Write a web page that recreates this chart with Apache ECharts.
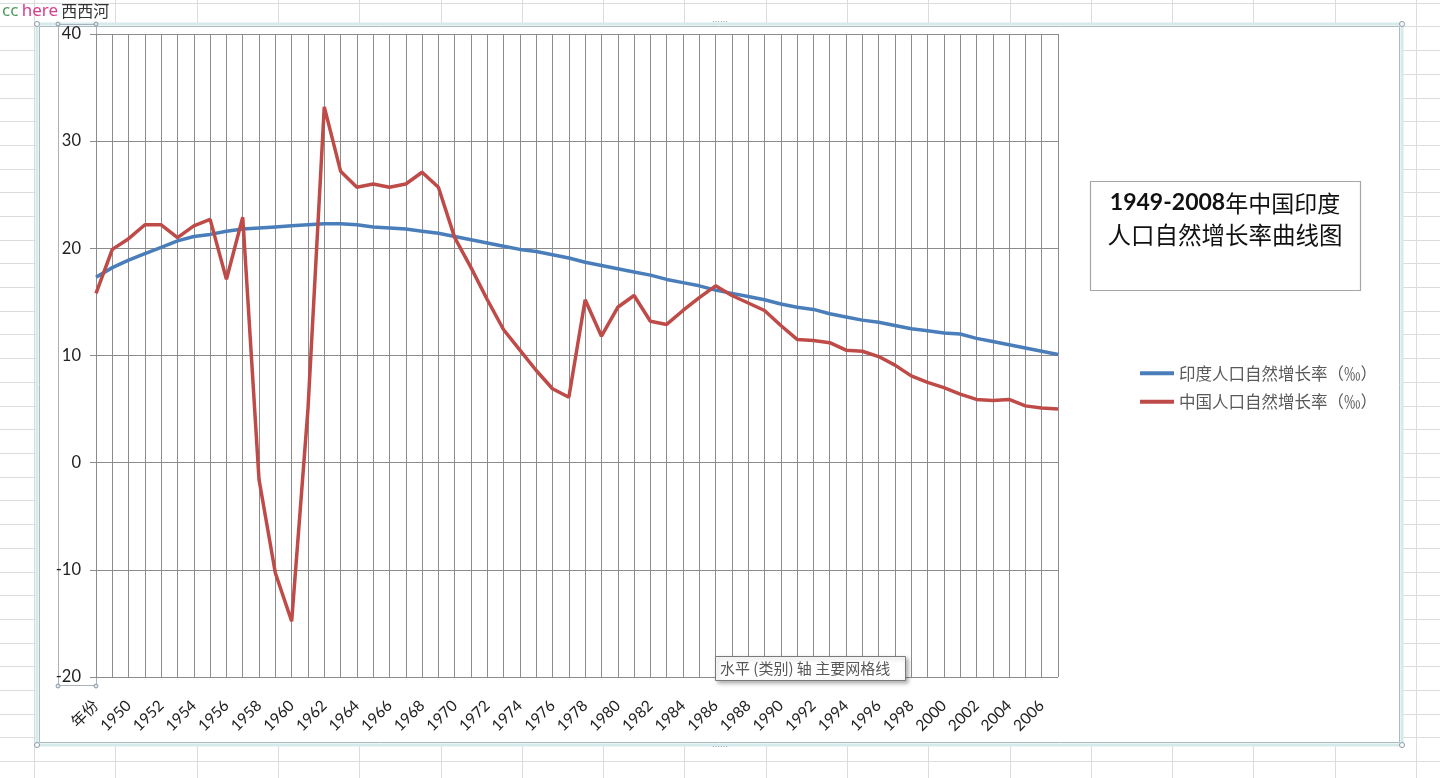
<!DOCTYPE html>
<html>
<head>
<meta charset="utf-8">
<script src="https://cdn.jsdelivr.net/npm/echarts@6/dist/echarts.min.js"></script>
<style>
html,body{margin:0;padding:0;background:#fff;}
#c{width:1440px;height:778px;}
</style>
</head>
<body>
<div id="c"></div>
<script>
const categories = ["年份","1949","1950","1951","1952","1953","1954","1955","1956","1957","1958","1959","1960","1961","1962","1963","1964","1965","1966","1967","1968","1969","1970","1971","1972","1973","1974","1975","1976","1977","1978","1979","1980","1981","1982","1983","1984","1985","1986","1987","1988","1989","1990","1991","1992","1993","1994","1995","1996","1997","1998","1999","2000","2001","2002","2003","2004","2005","2006","2007"];
const indiaRate = [17.3,18.2,18.9,19.5,20.1,20.7,21.1,21.3,21.6,21.8,21.9,22.0,22.1,22.2,22.3,22.3,22.2,22.0,21.9,21.8,21.6,21.4,21.1,20.8,20.5,20.2,19.9,19.7,19.4,19.1,18.7,18.4,18.1,17.8,17.5,17.1,16.8,16.5,16.1,15.8,15.5,15.2,14.8,14.5,14.3,13.9,13.6,13.3,13.1,12.8,12.5,12.3,12.1,12.0,11.6,11.3,11.0,10.7,10.4,10.1];
const chinaRate = [15.8,19.9,20.9,22.2,22.2,21.0,22.1,22.7,17.1,22.9,-1.6,-10.3,-14.8,5.0,33.2,27.2,25.7,26.0,25.7,26.0,27.1,25.7,21.0,18.2,15.2,12.4,10.5,8.6,6.9,6.1,15.2,11.8,14.5,15.6,13.2,12.9,14.2,15.4,16.5,15.6,14.9,14.2,12.8,11.5,11.4,11.2,10.5,10.4,9.9,9.1,8.1,7.5,7.0,6.4,5.9,5.8,5.9,5.3,5.1,5.0];
const seriesNames = ["印度人口自然增长率（‰）","中国人口自然增长率（‰）"];
const yTicks = {min:-20, max:40, interval:10};

const chart = echarts.init(document.getElementById('c'));

// spreadsheet background decoration
const deco = [];
for (let y = 2.7; y < 778; y += 23.7) {
  deco.push({type:'line', z:-100, silent:true, shape:{x1:0,y1:Math.round(y)+0.5,x2:1440,y2:Math.round(y)+0.5}, style:{stroke:'#dadcdd',lineWidth:1}});
}
for (let x = 34; x < 1440; x += 81.3) {
  deco.push({type:'line', z:-100, silent:true, shape:{x1:Math.round(x)+0.5,y1:0,x2:Math.round(x)+0.5,y2:778}, style:{stroke:'#dadcdd',lineWidth:1}});
}
// chart frame
deco.push({type:'rect', z:-90, silent:true, shape:{x:37,y:24,width:1365,height:721}, style:{fill:'#fff',stroke:'#d6eaec',lineWidth:3}});
deco.push({type:'rect', z:-89, silent:true, shape:{x:39.5,y:26.5,width:1360,height:716}, style:{fill:null,stroke:'#aabcbe',lineWidth:1}});
// frame handles
[[37,24],[1402,24],[37,745],[1402,745]].forEach(p=>{
  deco.push({type:'circle', z:50, silent:true, shape:{cx:p[0],cy:p[1],r:2.5}, style:{fill:'#fff',stroke:'#8a9aa6',lineWidth:1}});
});
[[720,22],[720,747]].forEach(p=>{
  deco.push({type:'text', z:50, silent:true, x:p[0], y:p[1], style:{text:'⋯⋯',fill:'#8a9aa6',fontSize:8,align:'center',verticalAlign:'middle'}});
});
// y-axis selection box
deco.push({type:'rect', z:-80, silent:true, shape:{x:58.5,y:24.5,width:38,height:661}, style:{fill:null,stroke:'#a9b2bb',lineWidth:1}});
[[58,24],[96,24],[58,686],[96,686]].forEach(p=>{
  deco.push({type:'circle', z:50, silent:true, shape:{cx:p[0],cy:p[1],r:2}, style:{fill:'#dfe6ee',stroke:'#8a9aa6',lineWidth:1}});
});
// watermark
deco.push({type:'text', z:50, silent:true, x:2, y:11, style:{
  text:'{a|cc} {b|here} {c|西西河}', verticalAlign:'middle',
  rich:{a:{fill:'#4f9a5a',fontSize:17,fontFamily:'Noto Sans'},b:{fill:'#d6418d',fontSize:17,fontFamily:'Noto Sans'},c:{fill:'#333',fontSize:16,fontFamily:'Noto Sans CJK SC'}}
}});
// title box
deco.push({type:'rect', z:40, silent:true, shape:{x:1090.5,y:181.5,width:270,height:109}, style:{fill:'#fff',stroke:'#a6a6a6',lineWidth:1.2}});
deco.push({type:'text', z:41, silent:true, x:1225, y:203, style:{
  text:'{n|1949-2008}{c|年中国印度}', align:'center', verticalAlign:'middle',
  rich:{n:{fontSize:23,fontWeight:'bold',fill:'#111',fontFamily:'Lato, Noto Sans'},c:{fontSize:23,fill:'#111',fontFamily:'Noto Sans CJK SC'}}
}});
deco.push({type:'text', z:41, silent:true, x:1225, y:235, style:{
  text:'人口自然增长率曲线图', align:'center', verticalAlign:'middle', fontSize:23.5, fill:'#111', fontFamily:'Noto Sans CJK SC'
}});
// hover tip
deco.push({type:'rect', z:60, silent:true, shape:{x:715.5,y:656.5,width:190,height:24}, style:{fill:'#fff',stroke:'#7a7a7a',lineWidth:1,shadowBlur:4,shadowOffsetX:2,shadowOffsetY:2,shadowColor:'rgba(0,0,0,0.3)'}});
deco.push({type:'text', z:61, silent:true, x:720, y:668.5, style:{text:'水平 (类别) 轴 主要网格线', verticalAlign:'middle', fontSize:15, fill:'#575757', fontFamily:'Noto Sans CJK SC'}});

const option = {
  animation:false,
  backgroundColor:'#fff',
  color:['#4a7ebb','#be4b48'],
  grid:{left:96, right:382, top:34, bottom:101, containLabel:false},
  legend:{
    orient:'vertical', left:1135, top:360, itemWidth:34, itemHeight:4, itemGap:12, icon:'rect',
    textStyle:{color:'#595959', fontSize:16.5, fontFamily:'Noto Sans CJK SC'},
    data:seriesNames
  },
  xAxis:{
    type:'category', data:categories, boundaryGap:false,
    axisLine:{show:true, lineStyle:{color:'#8c8c8c',width:1}},
    axisTick:{show:false},
    axisLabel:{interval:1, rotate:45, margin:26, color:'#222', fontSize:15.5, fontFamily:'Lato, Noto Sans CJK SC'},
    splitLine:{show:true, interval:0, lineStyle:{color:'#8c8c8c',width:1}}
  },
  yAxis:{
    type:'value', min:yTicks.min, max:yTicks.max, interval:yTicks.interval,
    axisLine:{show:true, lineStyle:{color:'#8c8c8c',width:1}},
    axisTick:{show:true, length:6, lineStyle:{color:'#8c8c8c'}},
    axisLabel:{margin:15, color:'#222', fontSize:16.5, fontFamily:'Lato, Noto Sans'},
    splitLine:{show:true, lineStyle:{color:'#8c8c8c',width:1}}
  },
  series:[
    {name:seriesNames[0], type:'line', data:indiaRate, showSymbol:false, symbol:'none', lineStyle:{width:3.5,color:'#4a7ebb'}, z:3},
    {name:seriesNames[1], type:'line', data:chinaRate, showSymbol:false, symbol:'none', lineStyle:{width:3.5,color:'#be4b48'}, z:4}
  ],
  graphic:deco
};
chart.setOption(option);
</script>
</body>
</html>
